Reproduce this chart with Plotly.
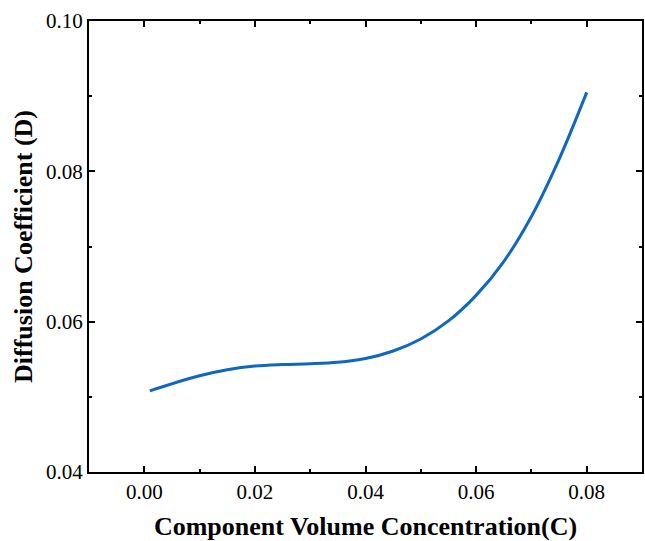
import plotly.graph_objects as go

# Component volume concentration (C) and diffusion coefficient (D)
concentration = [0.001, 0.010, 0.015, 0.020, 0.025, 0.030, 0.035, 0.040,
                 0.045, 0.050, 0.055, 0.060, 0.065, 0.070, 0.075, 0.080]
diffusion = [0.0508, 0.0528, 0.0536, 0.0541, 0.0543, 0.0544, 0.0546, 0.0551,
             0.0561, 0.0577, 0.0601, 0.0635, 0.0680, 0.0740, 0.0816, 0.0905]

x_ticks = [0.00, 0.02, 0.04, 0.06, 0.08]
y_ticks = [0.04, 0.06, 0.08, 0.10]

FONT = "Liberation Serif, Times New Roman, serif"

fig = go.Figure(
    go.Scatter(
        x=concentration,
        y=diffusion,
        mode="lines",
        line=dict(color="#0F67C2", width=3, shape="spline", smoothing=1.0),
        showlegend=False,
    )
)

axis_common = dict(
    showgrid=False,
    zeroline=False,
    showline=True,
    linecolor="black",
    linewidth=2,
    mirror="allticks",
    ticks="inside",
    ticklen=6,
    tickwidth=2,
    tickcolor="black",
    tickfont=dict(family=FONT, size=21, color="black"),
)

fig.update_xaxes(
    **axis_common,
    range=[-0.01, 0.09],
    tickvals=x_ticks,
    ticktext=[f"{v:.2f}" for v in x_ticks],
    minor=dict(ticks="inside", ticklen=3, tickwidth=2, tickcolor="black", dtick=0.01, tick0=0),
    title=dict(text="<b>Component Volume Concentration(C)</b>",
               font=dict(family=FONT, size=26, color="black"), standoff=14),
)
fig.update_yaxes(
    **axis_common,
    range=[0.04, 0.10],
    tickvals=y_ticks,
    ticktext=[f"{v:.2f}" for v in y_ticks],
    minor=dict(ticks="inside", ticklen=3, tickwidth=2, tickcolor="black", dtick=0.01, tick0=0),
    title=dict(text="<b>Diffusion Coefficient (D)</b>",
               font=dict(family=FONT, size=26, color="black"), standoff=6),
)

fig.update_layout(
    width=645,
    height=541,
    margin=dict(l=89, r=1, t=21, b=69),
    paper_bgcolor="white",
    plot_bgcolor="white",
)

fig.write_html("out.html")
